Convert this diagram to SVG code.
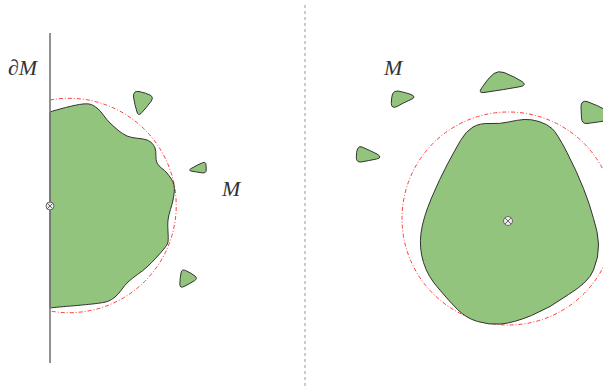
<svg xmlns="http://www.w3.org/2000/svg" width="603" height="389" viewBox="0 0 603 389">
<style>
.blob{fill:#93c47d;stroke:#333;stroke-width:1;stroke-linejoin:round}
.ball{fill:none;stroke:#ff3b3b;stroke-width:1;stroke-dasharray:4 2 1 2}
.lbl{font-family:"Liberation Serif","DejaVu Serif",serif;font-style:italic;font-size:22px;fill:#333}
.otimes circle{fill:#eee;stroke:#666;stroke-width:1}
.otimes path{stroke:#666;stroke-width:1}
</style>
<rect width="603" height="389" fill="#fff"/>
<g id="left-panel">
  <g id="left-ball"><path class="ball" d="M50,100 A107.2,107.2 0 1 1 50,311"/></g>
  <g id="left-region">
    <path class="blob" d="M50,112 C55.5,110 75.2,104.7 83,104 C90.8,103.3 92.5,104.8 97,108 C101.5,111.2 105,118.3 110,123 C115,127.7 120.8,133.2 127,136 C133.2,138.8 142.3,138 147,140 C151.7,142 153.3,144.2 155,148 C156.7,151.8 155,158.8 157,163 C159,167.2 164.2,169.3 167,173 C169.8,176.7 173,180.5 174,185 C175,189.5 174,194.2 173,200 C172,205.8 168.8,213 168,220 C167.2,227 168.8,237 168,242 C167.2,245 166.5,245.8 163,250 C159.5,254.2 152.8,261.7 147,267 C141.2,272.3 133.3,277 128,282 C122.7,287 119.7,293.5 115,297 C110.3,300.5 108,302 100,303 C89.2,304.8 58.3,306.8 50,308 Z"/>
  </g>
  <g id="left-blob-1"><path class="blob" d="M139,91.5 Q146,93 150,95 Q154,97 151,101.5 Q146,108 141,113.5 Q138,116 137,112 Q134.5,104 133.5,97 Q133,90.5 139,91.5 Z"/></g>
  <g id="left-blob-2"><path class="blob" d="M193,167.5 Q198,164.5 202.5,162.8 Q206,161.5 206,165 L206.2,170 Q206.2,173.5 202,172.8 Q196,172 191,171 Q187.5,170 193,167.5 Z"/></g>
  <g id="left-blob-3"><path class="blob" d="M185.5,270.5 Q191,273 195,276 Q198,278.5 194.5,280.7 Q189,284 184,286.5 Q180,288.5 179.8,284.5 Q180,278 181,273 Q182,268.5 185.5,270.5 Z"/></g>
  <g id="boundary"><line x1="50" y1="33" x2="50" y2="363" stroke="#777" stroke-width="1.6"/></g>
  <g id="left-point" class="otimes"><circle cx="50" cy="206" r="4"/><path d="M47.2,203.2 L52.8,208.8 M52.8,203.2 L47.2,208.8"/></g>
  <g id="label-dM"><text class="lbl" x="8" y="75">∂M</text></g>
  <g id="label-M-left"><text class="lbl" x="222" y="196">M</text></g>
</g>
<g id="divider"><line x1="305" y1="5" x2="305" y2="386" stroke="#999" stroke-width="1" stroke-dasharray="3 3"/></g>
<g id="right-panel">
  <g id="right-ball"><circle class="ball" cx="508.5" cy="218.5" r="106.5"/></g>
  <g id="right-region">
    <path class="blob" d="M460.5,140.5 Q466,131 473,127 Q480,123 490,123.5 Q500,124 508.5,122 Q517,120 524,119.5 Q531,119 539,121.5 Q547,124 552,128.5 Q557,133 567,152.5 Q577,172 583.5,188.5 Q590,205 593.5,218.5 Q598,232 598.5,244 Q599,257 593.5,270 Q589,282 568.5,294.5 Q550,308 531.5,315.5 Q513,323 501,324 Q489,325 477.5,321.5 Q466,318 457.5,309.5 Q449,301 439,289 Q428,277 423.5,262.5 Q419,248 421,233 Q423,218 431.5,198 Q440,178 447.5,164 Q455,150 460.5,140.5 Z"/>
  </g>
  <g id="right-blob-1"><path class="blob" d="M398,91 Q406,92.5 411,94.5 Q417,97 411,99.5 Q403,103 397,106.5 Q391.5,109 391.3,103.5 Q391.5,97 392.5,94 Q394,90.5 398,91 Z"/></g>
  <g id="right-blob-2"><path class="blob" d="M482,87.5 Q488,78 494,73.5 Q498,70.5 504,72.5 Q515,77 522,81.5 Q527,85 521,86.5 Q505,89.5 484,92.5 Q477.5,93.5 482,87.5 Z"/></g>
  <g id="right-blob-3"><path class="blob" d="M587,101.5 Q597,105 610,112 L612,120 Q598,122 587,123.5 Q582,124 581.5,118 L581,107 Q581,100 587,101.5 Z"/></g>
  <g id="right-blob-4"><path class="blob" d="M362,147 Q370,150.5 377,154 Q383,157.5 376.5,159 Q368,160.8 361,162 Q356.5,162.5 356.3,157.5 Q356.3,152 357.5,149 Q359,145.5 362,147 Z"/></g>
  <g id="right-point" class="otimes"><circle cx="508" cy="221" r="4.5"/><path d="M504.8,217.8 L511.2,224.2 M511.2,217.8 L504.8,224.2"/></g>
  <g id="label-M-right"><text class="lbl" x="384" y="75">M</text></g>
</g>
</svg>
